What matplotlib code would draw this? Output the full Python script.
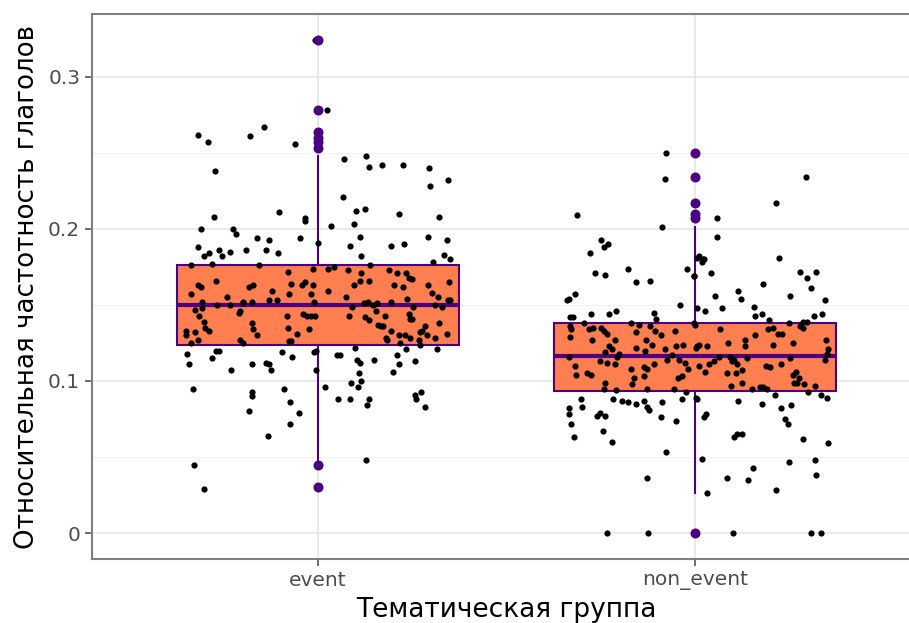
import matplotlib
matplotlib.use("Agg")
import matplotlib.pyplot as plt
from matplotlib.ticker import MultipleLocator

# --- данные ---
groups = ["event", "non_event"]
box_q1 = [0.124, 0.0935]
box_med = [0.150, 0.1165]
box_q3 = [0.176, 0.138]
whisk_lo = [0.048, 0.026]
whisk_hi = [0.248, 0.201]

event_outliers = [0.324, 0.278, 0.264, 0.260, 0.257, 0.253, 0.045, 0.030]
non_event_outliers = [0.250, 0.234, 0.217, 0.210, 0.207, 0.0]

# (смещение джиттера, значение)
event_points = [
    (-0.319, 0.262), (-0.293, 0.257), (-0.180, 0.261), (-0.144, 0.267), (-0.060, 0.256),
    (-0.274, 0.238), (-0.275, 0.208), (-0.105, 0.211), (-0.034, 0.207), (-0.034, 0.205),
    (-0.311, 0.200), (-0.227, 0.200), (-0.218, 0.197), (-0.161, 0.194), (-0.130, 0.193),
    (-0.047, 0.194), (-0.318, 0.188), (-0.290, 0.184), (-0.302, 0.182), (-0.264, 0.186),
    (-0.255, 0.182), (-0.233, 0.185), (-0.191, 0.186), (-0.139, 0.186), (-0.106, 0.184),
    (0.001, 0.191), (-0.336, 0.176), (-0.282, 0.177), (-0.156, 0.176), (-0.014, 0.174),
    (-0.079, 0.172), (-0.319, 0.163), (-0.310, 0.162), (-0.271, 0.166), (-0.184, 0.162),
    (-0.173, 0.163), (-0.072, 0.164), (-0.035, 0.165), (-0.043, 0.163), (-0.014, 0.163),
    (-0.336, 0.157), (-0.242, 0.155), (-0.121, 0.159), (-0.077, 0.157), (-0.018, 0.157),
    (-0.308, 0.152), (-0.267, 0.150), (-0.235, 0.150), (-0.198, 0.152), (-0.198, 0.151),
    (-0.175, 0.152), (-0.130, 0.153), (-0.110, 0.153), (-0.010, 0.152), (-0.326, 0.147),
    (-0.308, 0.148), (-0.208, 0.146), (-0.008, 0.324), (0.023, 0.278),
    (0.070, 0.246), (0.128, 0.248), (0.135, 0.241), (0.170, 0.242), (0.226, 0.242),
    (0.294, 0.240), (0.298, 0.228), (0.344, 0.232), (0.066, 0.221), (0.101, 0.212),
    (0.125, 0.213), (0.216, 0.210), (0.320, 0.208), (0.034, 0.202), (0.095, 0.203),
    (0.111, 0.195), (0.086, 0.189), (0.193, 0.189), (0.228, 0.190), (0.293, 0.195),
    (0.342, 0.193), (0.113, 0.182), (0.334, 0.183), (0.349, 0.180), (0.305, 0.178),
    (0.025, 0.174), (0.041, 0.175), (0.080, 0.173), (0.138, 0.176), (0.188, 0.173),
    (0.210, 0.171), (0.234, 0.171), (0.242, 0.168), (0.249, 0.167), (0.115, 0.171),
    (0.112, 0.166), (0.135, 0.166), (0.095, 0.163), (0.202, 0.163), (0.225, 0.162),
    (0.292, 0.163), (0.347, 0.165), (0.027, 0.159), (0.074, 0.155), (0.235, 0.154),
    (0.301, 0.158), (0.319, 0.155), (0.344, 0.153), (0.349, 0.153), (0.123, 0.151),
    (0.132, 0.152), (0.147, 0.150), (0.157, 0.151), (0.193, 0.152), (0.089, 0.149),
    (0.251, 0.149), (0.310, 0.150), (0.330, 0.149),
    (-0.315, 0.143), (-0.209, 0.145), (-0.083, 0.143), (-0.041, 0.144), (-0.030, 0.143),
    (-0.019, 0.143), (-0.008, 0.143), (-0.303, 0.139), (-0.299, 0.135), (-0.290, 0.133),
    (-0.350, 0.133), (-0.350, 0.130), (-0.326, 0.132), (-0.176, 0.138), (-0.174, 0.134),
    (-0.161, 0.130), (-0.081, 0.135), (-0.055, 0.131), (-0.025, 0.134), (-0.319, 0.127),
    (-0.338, 0.125), (-0.206, 0.127), (-0.199, 0.125), (-0.078, 0.126), (-0.071, 0.126),
    (-0.347, 0.118), (-0.270, 0.120), (-0.263, 0.120), (-0.282, 0.115), (-0.342, 0.111),
    (-0.230, 0.107), (-0.176, 0.111), (-0.139, 0.112), (-0.130, 0.111), (-0.125, 0.107),
    (-0.097, 0.119), (-0.069, 0.116), (-0.012, 0.119), (-0.005, 0.120), (-0.006, 0.107),
    (-0.332, 0.095), (-0.175, 0.093), (-0.175, 0.090), (-0.090, 0.095), (-0.075, 0.086),
    (-0.184, 0.080), (-0.050, 0.079), (-0.074, 0.072), (-0.134, 0.064), (-0.330, 0.045),
    (-0.303, 0.029),
    (0.081, 0.143), (0.125, 0.142), (0.135, 0.140), (0.154, 0.146), (0.178, 0.143),
    (0.241, 0.144), (0.244, 0.141), (0.249, 0.141), (0.160, 0.137), (0.167, 0.136),
    (0.173, 0.136), (0.194, 0.133), (0.321, 0.138), (0.284, 0.136), (0.277, 0.133),
    (0.271, 0.132), (0.290, 0.130), (0.310, 0.128), (0.343, 0.131), (0.216, 0.130),
    (0.231, 0.130), (0.244, 0.128), (0.179, 0.128), (0.182, 0.127), (0.218, 0.125),
    (0.269, 0.127), (0.270, 0.124), (0.049, 0.117), (0.058, 0.117), (0.098, 0.122),
    (0.233, 0.121), (0.316, 0.121), (0.104, 0.114), (0.112, 0.112), (0.149, 0.114),
    (0.210, 0.117), (0.258, 0.113), (0.108, 0.105), (0.215, 0.111), (0.200, 0.106),
    (0.088, 0.099), (0.114, 0.100), (0.105, 0.096), (0.019, 0.096), (0.054, 0.088),
    (0.086, 0.088), (0.136, 0.088), (0.129, 0.084), (0.256, 0.091), (0.260, 0.088),
    (0.273, 0.093), (0.284, 0.083), (0.127, 0.048),
]

non_event_points = [
    (-0.076, 0.250), (-0.080, 0.233), (-0.314, 0.209), (-0.087, 0.201), (-0.249, 0.193),
    (-0.242, 0.188), (-0.230, 0.190), (-0.278, 0.184), (-0.264, 0.171), (-0.238, 0.170),
    (-0.177, 0.174), (-0.156, 0.165), (-0.119, 0.166), (-0.020, 0.174), (-0.003, 0.169),
    (-0.340, 0.153), (-0.334, 0.154), (-0.318, 0.157), (-0.040, 0.150), (0.005, 0.148),
    (-0.332, 0.142), (-0.324, 0.142), (-0.277, 0.144), (-0.227, 0.144), (-0.209, 0.146),
    (-0.108, 0.145), (-0.103, 0.141), (0.006, 0.181), (-0.294, 0.138), (-0.170, 0.138),
    (-0.149, 0.137), (-0.119, 0.136), (-0.003, 0.138), (-0.332, 0.136), (-0.330, 0.134),
    (-0.282, 0.134), (-0.271, 0.135), (-0.249, 0.135), (-0.241, 0.133), (-0.234, 0.131),
    (-0.156, 0.132), (-0.105, 0.133), (-0.090, 0.130), (-0.054, 0.133), (-0.332, 0.129),
    (-0.272, 0.127), (-0.213, 0.127), (-0.131, 0.127),
    (-0.229, 0.123), (-0.220, 0.121), (-0.238, 0.119), (-0.201, 0.118), (-0.207, 0.116),
    (-0.156, 0.122), (-0.132, 0.120), (-0.114, 0.124), (-0.080, 0.121), (-0.051, 0.123),
    (-0.031, 0.124), (-0.060, 0.117), (0.003, 0.122), (-0.333, 0.116), (-0.251, 0.113),
    (-0.233, 0.112), (-0.213, 0.111), (-0.318, 0.110), (-0.169, 0.108), (-0.136, 0.109),
    (-0.128, 0.108), (-0.109, 0.111), (-0.074, 0.114), (-0.043, 0.114), (-0.026, 0.112),
    (-0.019, 0.108), (-0.315, 0.104), (-0.286, 0.105), (-0.277, 0.104), (-0.162, 0.102),
    (-0.166, 0.098), (-0.136, 0.103), (-0.238, 0.099), (-0.241, 0.095), (-0.210, 0.094),
    (-0.128, 0.095), (-0.056, 0.095), (-0.045, 0.102), (-0.034, 0.103), (-0.023, 0.093),
    (0.003, 0.089), (-0.303, 0.088), (-0.299, 0.083), (-0.217, 0.088), (-0.194, 0.087),
    (-0.178, 0.086), (-0.156, 0.085), (-0.134, 0.087), (-0.127, 0.083), (-0.123, 0.081),
    (-0.087, 0.086), (-0.034, 0.088), (-0.334, 0.082), (-0.333, 0.078), (-0.259, 0.077),
    (-0.251, 0.079), (-0.239, 0.077), (-0.089, 0.076), (-0.051, 0.074), (-0.329, 0.072),
    (-0.321, 0.063), (-0.243, 0.067), (-0.220, 0.060), (-0.077, 0.053), (-0.127, 0.036),
    (-0.234, 0.0), (-0.125, 0.0),
    (0.294, 0.234), (0.215, 0.217), (0.058, 0.207), (0.058, 0.195), (0.012, 0.182),
    (0.021, 0.180), (0.019, 0.178), (0.024, 0.180), (-0.002, 0.169), (0.042, 0.171),
    (0.224, 0.181), (0.279, 0.172), (0.298, 0.168), (0.321, 0.172), (0.307, 0.161),
    (0.180, 0.164), (0.114, 0.159), (0.121, 0.154), (0.052, 0.156), (0.252, 0.156),
    (0.346, 0.153), (0.027, 0.146), (0.071, 0.148), (0.158, 0.149), (0.159, 0.143),
    (0.177, 0.144), (0.197, 0.140), (0.249, 0.138), (0.287, 0.139), (0.297, 0.139),
    (0.316, 0.143), (0.337, 0.144), (-0.001, 0.137), (0.066, 0.134), (0.159, 0.130),
    (0.195, 0.134), (0.207, 0.135), (0.221, 0.131), (0.230, 0.131), (0.279, 0.136),
    (0.287, 0.135), (0.348, 0.127), (0.132, 0.127),
    (0.012, 0.124), (0.005, 0.123), (0.031, 0.123), (0.089, 0.125), (0.132, 0.123),
    (0.208, 0.124), (0.259, 0.125), (0.353, 0.121), (0.350, 0.118), (0.344, 0.114),
    (0.064, 0.116), (0.050, 0.113), (0.037, 0.111), (0.094, 0.116), (0.099, 0.113),
    (0.105, 0.114), (0.139, 0.115), (0.253, 0.115), (0.011, 0.110), (0.028, 0.106),
    (0.111, 0.111), (0.125, 0.107), (0.086, 0.105), (0.109, 0.105), (0.189, 0.110),
    (0.199, 0.109), (0.229, 0.111), (0.268, 0.106), (0.260, 0.104), (0.276, 0.102),
    (0.264, 0.099), (0.272, 0.099), (0.289, 0.098), (0.318, 0.097), (0.125, 0.099),
    (0.095, 0.097), (0.151, 0.095), (0.172, 0.096), (0.181, 0.096), (0.190, 0.095),
    (0.300, 0.093), (0.213, 0.091), (0.334, 0.091), (0.350, 0.089), (0.005, 0.088),
    (0.114, 0.087), (0.178, 0.085), (0.229, 0.082), (0.256, 0.084), (0.030, 0.078),
    (0.023, 0.076), (0.240, 0.075), (0.247, 0.072), (0.103, 0.063), (0.112, 0.065),
    (0.124, 0.065), (0.286, 0.062), (0.353, 0.059), (0.018, 0.049), (0.249, 0.047),
    (0.318, 0.048), (0.321, 0.038), (0.154, 0.043), (0.084, 0.036), (0.142, 0.035),
    (0.215, 0.028), (0.032, 0.026), (0.102, 0.0), (0.308, 0.0), (0.334, 0.0),
]

fill_col = "#FF7F50"
edge_col = "#4B0082"

fig = plt.figure(figsize=(9.09, 6.23), dpi=100)
ax = fig.add_axes([0.1012, 0.1027, 0.912, 0.8748])

positions = [1, 2]
stats = []
for i, g in enumerate(groups):
    stats.append({
        "label": g, "q1": box_q1[i], "med": box_med[i], "q3": box_q3[i],
        "whislo": whisk_lo[i], "whishi": whisk_hi[i], "fliers": [],
    })

ax.bxp(stats, positions=positions, widths=0.75, patch_artist=True, showcaps=False,
       boxprops=dict(facecolor=fill_col, edgecolor=edge_col, linewidth=1.5),
       medianprops=dict(color=edge_col, linewidth=3),
       whiskerprops=dict(color=edge_col, linewidth=1.5),
       zorder=2)

# точки с джиттером
for pos, pts in zip(positions, [event_points, non_event_points]):
    xs = [pos + dx for dx, _ in pts]
    ys = [y for _, y in pts]
    ax.scatter(xs, ys, s=20, color="black", linewidths=0, zorder=3)

# выбросы
for pos, outs in zip(positions, [event_outliers, non_event_outliers]):
    ax.scatter([pos] * len(outs), outs, s=52, color=edge_col, linewidths=0, zorder=4)

ax.set_xlim(0.4, 2.6)
ax.set_ylim(-0.0171, 0.3414)
ax.set_xticks(positions)
ax.set_xticklabels(groups)
ax.set_yticks([0, 0.1, 0.2, 0.3])
ax.set_yticklabels(["0", "0.1", "0.2", "0.3"])
ax.yaxis.set_minor_locator(MultipleLocator(0.05))

ax.set_axisbelow(True)
ax.grid(True, which="major", color="#e6e6e6", linewidth=1.2)
ax.grid(True, which="minor", axis="y", color="#f2f2f2", linewidth=0.8)
ax.tick_params(axis="both", which="major", length=5, width=1.2, color="#555555",
               labelcolor="#4d4d4d", labelsize=14.5)
ax.tick_params(axis="y", which="minor", length=0)
for sp in ax.spines.values():
    sp.set_color("#7f7f7f")
    sp.set_linewidth(1.5)

ax.set_xlabel("Тематическая группа", fontsize=19, labelpad=5.5)
ax.set_ylabel("Относительная частотность глаголов", fontsize=18.8, labelpad=6)

fig.savefig("out.png", dpi=100)
